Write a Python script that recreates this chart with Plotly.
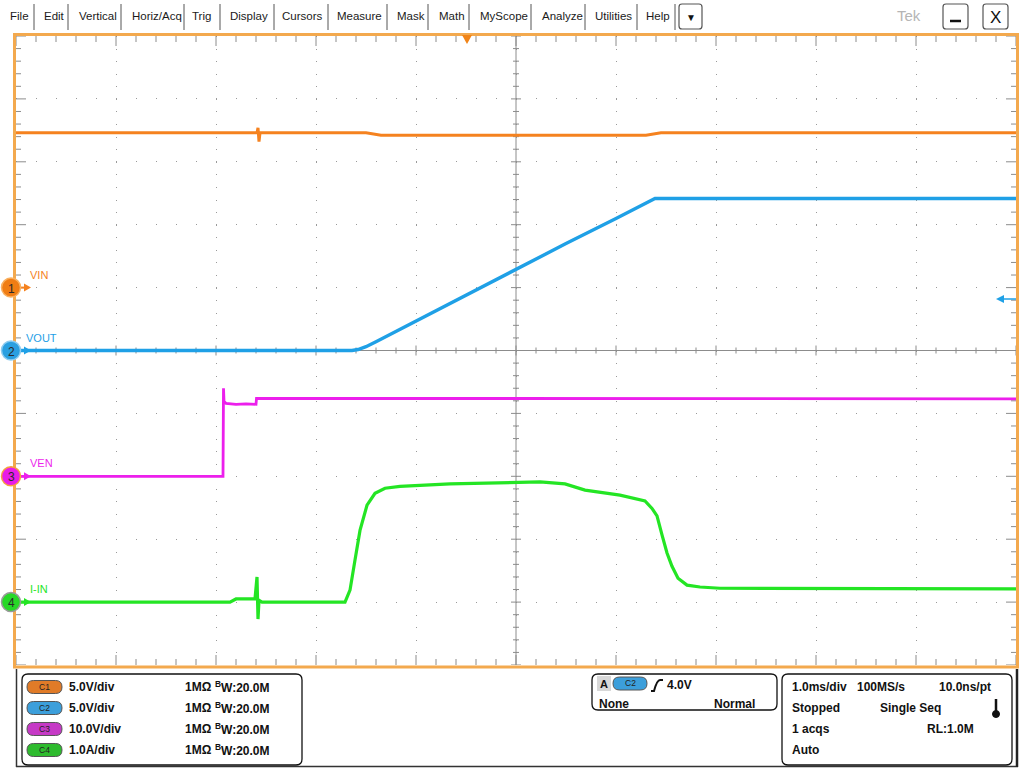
import numpy as np
import plotly.graph_objects as go

# ---------------- data (time in ms relative to trigger, values in physical units) ----------------
t_vin = [-4.5, -2.09, -2.08, -2.07, -2.06, -1.0, -0.85, 1.80, 1.95, 5.5]
v_vin = [12.3, 12.3, 12.7, 11.6, 12.3, 12.3, 12.12, 12.12, 12.3, 12.3]

t_vout = [-4.5, -1.14, -1.08, -1.0, -0.9, 0.0, 0.5, 1.0, 1.5, 1.8, 1.89, 1.93, 5.5]
v_vout = [0.0, 0.0, 0.08, 0.3, 0.7, 4.4, 6.5, 8.5, 10.5, 11.7, 12.08, 12.08, 12.08]

t_ven = [-4.5, -2.43, -2.425, -2.42, -2.40, -2.30, -2.20, -2.10, -2.095, 0.0, 5.5]
v_ven = [0.0, 0.0, 14.0, 11.9, 11.6, 11.45, 11.5, 11.45, 12.4, 12.35, 12.3]

t_iin = [-4.5, -2.36, -2.30, -2.11, -2.09, -2.08, -2.07, -2.04, -1.21, -1.16, -1.11, -1.06,
         -0.99, -0.91, -0.81, -0.66, -0.16, 0.74, 0.99, 1.19, 1.54, 1.79, 1.86, 1.91,
         1.96, 2.01, 2.06, 2.12, 2.21, 2.34, 2.54, 5.5]
a_iin = [0.0, 0.0, 0.05, 0.05, 0.40, -0.27, 0.03, 0.0, 0.0, 0.19, 0.67, 1.14,
         1.54, 1.73, 1.81, 1.84, 1.88, 1.91, 1.88, 1.78, 1.70, 1.61, 1.49, 1.37,
         1.07, 0.78, 0.57, 0.38, 0.27, 0.24, 0.22, 0.21]

channel_names = ["VIN", "VOUT", "VEN", "I-IN"]
channel_scales = [5.0, 5.0, 10.0, 1.0]          # units per division
channel_offsets = [1.0, 0.0, -2.0, -4.0]        # ground marker position in divisions
channel_colors = ["#F5821F", "#1FA0E6", "#EC1FEC", "#24E524"]
scale_labels = ["5.0V/div", "5.0V/div", "10.0V/div", "1.0A/div"]
menu_items = ["File", "Edit", "Vertical", "Horiz/Acq", "Trig", "Display", "Cursors",
              "Measure", "Mask", "Math", "MyScope", "Analyze", "Utilities", "Help"]

series = [(t_vin, v_vin), (t_vout, v_vout), (t_ven, v_ven), (t_iin, a_iin)]

# ---------------- geometry helpers ----------------
L, R, T, B = 16, 1016, 36, 665       # plot area in pixels
XW, YH = R - L, B - T


def px(x):
    return (x - L) / XW


def py(y):
    return (B - y) / YH


def P(x, y):
    return f"{px(x):.5f},{py(y):.5f}"


shapes = []
annotations = []


def rect(x0, y0, x1, y1, fill=None, color=None, width=1):
    d = dict(type="rect", xref="paper", yref="paper", x0=px(x0), x1=px(x1),
             y0=py(y1), y1=py(y0), line=dict(color=color or "rgba(0,0,0,0)", width=width))
    if fill:
        d["fillcolor"] = fill
    shapes.append(d)


def seg(x0, y0, x1, y1, color, width):
    shapes.append(dict(type="line", xref="paper", yref="paper", x0=px(x0), y0=py(y0),
                       x1=px(x1), y1=py(y1), line=dict(color=color, width=width)))


def rrect(x0, y0, x1, y1, r, fill="white", color="#111", width=1.2):
    p = (f"M {P(x0 + r, y0)} L {P(x1 - r, y0)} Q {P(x1, y0)} {P(x1, y0 + r)} "
         f"L {P(x1, y1 - r)} Q {P(x1, y1)} {P(x1 - r, y1)} L {P(x0 + r, y1)} "
         f"Q {P(x0, y1)} {P(x0, y1 - r)} L {P(x0, y0 + r)} Q {P(x0, y0)} {P(x0 + r, y0)} Z")
    shapes.append(dict(type="path", xref="paper", yref="paper", path=p, fillcolor=fill,
                       line=dict(color=color, width=width)))


def poly(pts, fill, color=None, width=0):
    p = "M " + " L ".join(P(x, y) for x, y in pts) + " Z"
    shapes.append(dict(type="path", xref="paper", yref="paper", path=p, fillcolor=fill,
                       line=dict(color=color or fill, width=width)))


def circle(cx, cy, r, fill, color, width=1.5):
    shapes.append(dict(type="circle", xref="paper", yref="paper", x0=px(cx - r), x1=px(cx + r),
                       y0=py(cy + r), y1=py(cy - r), fillcolor=fill,
                       line=dict(color=color, width=width)))


def txt(x, y, s, size=12, color="#111", bold=False, anchor="left", family="Arial"):
    annotations.append(dict(x=px(x), y=py(y), xref="paper", yref="paper", text=s,
                            showarrow=False, xanchor=anchor, yanchor="middle",
                            font=dict(size=size, color=color, family=family,
                                      weight="bold" if bold else "normal")))


fig = go.Figure()

# ---------------- graticule ticks (computed from the axis geometry) ----------------
xr = [-4.5, 5.5]
yr = [-5.0, 5.0]
ms_px = (xr[1] - xr[0]) / XW
div_px = (yr[1] - yr[0]) / YH
xc = (xr[0] + xr[1]) / 2
gx, gy = [], []
for k in range(51):
    yv = yr[0] + 0.2 * k
    major = k % 5 == 0
    h = (5 if major else 3) * ms_px
    gx += [xc - h, xc + h, None]
    gy += [yv, yv, None]
    e = (10 if major else 5) * ms_px
    gx += [xr[0], xr[0] + e, None, xr[1] - e, xr[1], None]
    gy += [yv, yv, None, yv, yv, None]
    xv = xr[0] + 0.2 * k
    h = (5 if major else 3) * div_px
    gx += [xv, xv, None]
    gy += [-h, h, None]
    e = (10 if major else 6) * div_px
    gx += [xv, xv, None, xv, xv, None]
    gy += [yr[1], yr[1] - e, None, yr[0], yr[0] + e, None]
fig.add_trace(go.Scatter(x=gx, y=gy, mode="lines", line=dict(color="#8C8C8C", width=1),
                         hoverinfo="skip", showlegend=False))
fig.add_trace(go.Scatter(x=[xc, xc], y=yr, mode="lines", line=dict(color="#8C8C8C", width=1),
                         hoverinfo="skip", showlegend=False))

# ---------------- waveforms ----------------
widths = [3.0, 3.4, 2.8, 3.2]
for (t, v), sc, off, col, w in zip(series, channel_scales, channel_offsets, channel_colors, widths):
    fig.add_trace(go.Scatter(x=t, y=np.array(v) / sc + off, mode="lines",
                             line=dict(color=col, width=w), hoverinfo="skip",
                             showlegend=False))

# ---------------- screen border & markers ----------------
rect(14.5, 34.5, 1017.5, 667, color="#F3A94E", width=3)
poly([(462, 35), (472, 35), (467, 44)], "#F08418")                   # trigger position
seg(1003, 299, 1016, 299, channel_colors[1], 1.5)                      # trigger level
poly([(996, 299), (1004, 295), (1004, 303)], channel_colors[1])

marker_fill = ["#F07D14", "#2A9FE0", "#E81CE8", "#27D827"]
marker_ring = ["#F9B060", "#8CCBF0", "#F5A040", "#9A9A9A"]
for i, (name, off, col) in enumerate(zip(channel_names, channel_offsets, channel_colors)):
    ypix = B - (off - yr[0]) / div_px
    seg(18, ypix, 26, ypix, col, 2)
    poly([(31, ypix), (24, ypix - 4), (24, ypix + 4)], col)
    circle(11, ypix, 9.5, marker_fill[i], marker_ring[i], 1.5)
    txt(11, ypix + 1, str(i + 1), size=12, color="#2a2a2a", anchor="center")
    txt(28 if name != "VOUT" else 24, ypix - 13, name, size=11, color=col)

# ---------------- menu bar ----------------
menu_x = [8, 42, 77, 130, 190, 228, 280, 335, 395, 437, 478, 540, 593, 644]
sep_x = [34, 68, 121, 184, 220, 274, 328, 387, 428, 469, 531, 585, 637, 675]
for s, x in zip(menu_items, menu_x):
    txt(x, 16, s, size=11.5, color="#1a1a1a")
for x in sep_x:
    seg(x, 4, x, 30, "#555555", 1)
rrect(679, 4, 702, 29, 3, fill="white", color="#555", width=1.2)
txt(690.5, 17, "▼", size=10, color="#111", anchor="center")
txt(895, 16, "Tek", size=15, color="#B5B5B5", anchor="left")
rrect(943, 4, 968, 29, 3, fill="white", color="#555", width=1.2)
seg(950, 21, 961, 21, "#111", 2.5)
rrect(983, 4, 1008, 29, 3, fill="white", color="#555", width=1.2)
txt(995.5, 17, "X", size=17, color="#111", anchor="center")

# ---------------- bottom readout panel ----------------
seg(16.5, 669, 16.5, 767, "#333", 1.5)
seg(16, 766.5, 1018, 766.5, "#333", 1.5)
seg(1017, 669, 1017, 767, "#222", 2.5)

rrect(22, 674, 302, 765, 6, fill="white", color="#111", width=1.3)
rrect(592, 674, 777, 710, 6, fill="white", color="#111", width=1.3)
rrect(782, 674, 1012, 765, 6, fill="white", color="#111", width=1.3)

badge_fill = ["#E07B28", "#3C9FDB", "#C63AC6", "#2EBB2E"]
row_y = [687, 708, 729, 750]
for i in range(4):
    yy = row_y[i]
    rrect(27, yy - 6.5, 62, yy + 6.5, 6.5, fill=badge_fill[i], color="#555", width=1)
    txt(44.5, yy, f"C{i + 1}", size=8.5, color="#222", anchor="center")
    txt(67, yy, scale_labels[i], size=12, bold=True)
    txt(183, yy, "1MΩ", size=12, bold=True)
    txt(213, yy, "<sup>B</sup>W:20.0M", size=12, bold=True)

rect(597, 676, 611, 691, fill="#D8D8D8")
txt(604, 684, "A", size=11, bold=True, anchor="center")
rrect(613, 677, 647, 690, 6.5, fill="#3C9FDB", color="#555", width=1)
txt(630, 683.5, "C2", size=8.5, color="#222", anchor="center")
shapes.append(dict(type="path", xref="paper", yref="paper",
                   path=f"M {P(651, 691)} L {P(654, 691)} Q {P(657, 680)} {P(660, 680)} L {P(663, 680)}",
                   line=dict(color="#111", width=2)))
txt(665, 685, "4.0V", size=12, bold=True)
txt(597, 704, "None", size=12, bold=True)
txt(757, 704, "Normal", size=12, bold=True, anchor="right")

txt(790, 687, "1.0ms/div", size=12, bold=True)
txt(855, 687, "100MS/s", size=12, bold=True)
txt(993, 687, "10.0ns/pt", size=12, bold=True, anchor="right")
txt(790, 708, "Stopped", size=12, bold=True)
txt(878, 708, "Single Seq", size=12, bold=True)
txt(790, 729, "1 acqs", size=12, bold=True)
txt(976, 729, "RL:1.0M", size=12, bold=True, anchor="right")
txt(790, 750, "Auto", size=12, bold=True)
seg(996, 699, 996, 712, "#111", 2.5)
circle(996, 714, 3.5, "#111", "#111", 1)

# ---------------- layout ----------------
fig.update_layout(
    width=1024, height=768, autosize=False,
    margin=dict(l=L, r=1024 - R, t=T, b=768 - B, pad=0),
    paper_bgcolor="white", plot_bgcolor="white",
    showlegend=False,
    xaxis=dict(range=xr, showticklabels=False, ticks="", zeroline=False, showline=False,
               showgrid=True, tick0=xr[0], dtick=1, gridcolor="#9A9A9A", gridwidth=1,
               griddash=f"1px,{YH / 50 - 1:.2f}px", fixedrange=True),
    yaxis=dict(range=yr, showticklabels=False, ticks="", zeroline=True,
               zerolinecolor="#8C8C8C", zerolinewidth=1, showline=False,
               showgrid=True, tick0=yr[0], dtick=1, gridcolor="#9A9A9A", gridwidth=1,
               griddash="1px,19px", fixedrange=True),
    shapes=shapes,
    annotations=annotations,
)

fig.write_html("out.html", config={"displayModeBar": False},
               post_script="document.body.style.margin='0';document.body.style.overflow='hidden';")
